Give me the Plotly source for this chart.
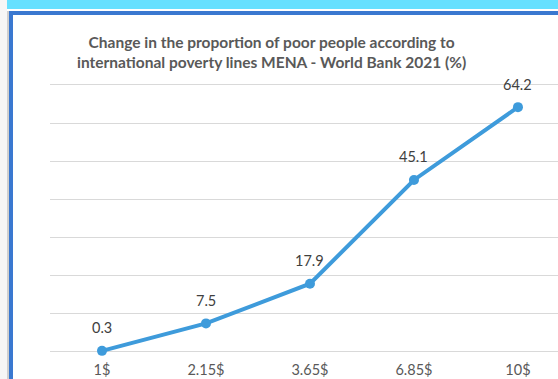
import plotly.graph_objects as go

# Poverty lines (USD/day) and share of population below each line (%)
poverty_lines = ["1$", "2.15$", "3.65$", "6.85$", "10$"]
poor_share = [0.3, 7.5, 17.9, 45.1, 64.2]
chart_title = ("Change in the proportion of poor people according to<br>"
               "international poverty lines MENA - World Bank 2021 (%)")

W, H = 558, 379
LINE_BLUE = "#3e9bdb"
FONT = "Lato"

# vertical scale: 0 % sits at y=352 px, 70 % at y=85 px
Y_LO, Y_HI = -0.5, 71.0
PX_PER_UNIT = (352 - 85) / 70.0
Y_BOTTOM_PX = 352 + (0 - Y_LO) * PX_PER_UNIT
Y_TOP_PX = 85 - (Y_HI - 70) * PX_PER_UNIT


def px_x(p):
    return p / W


def px_y(p):
    return 1 - p / H


fig = go.Figure()
fig.add_trace(go.Scatter(
    x=poverty_lines,
    y=poor_share,
    mode="lines+markers",
    line=dict(color=LINE_BLUE, width=4),
    marker=dict(color=LINE_BLUE, size=10),
    cliponaxis=False,
    hoverinfo="skip",
))

# value labels sitting above each point
value_labels = [
    dict(x=cat, y=val, xref="x", yref="y", text=f"{val:.1f}",
         showarrow=False, yshift=23, xanchor="center", yanchor="middle",
         font=dict(family=FONT, size=14.5, color="#404040"))
    for cat, val in zip(poverty_lines, poor_share)
]

shapes = [
    # light grey strip on the far left
    dict(type="rect", xref="paper", yref="paper", x0=px_x(0), x1=px_x(7),
         y0=px_y(H), y1=px_y(0), fillcolor="#f6f6f6", line_width=0, layer="below"),
    dict(type="rect", xref="paper", yref="paper", x0=px_x(7), x1=px_x(9),
         y0=px_y(H), y1=px_y(11), fillcolor="#cfcfcf", line_width=0, layer="below"),
    # cyan header band
    dict(type="rect", xref="paper", yref="paper", x0=px_x(7), x1=px_x(W),
         y0=px_y(9), y1=px_y(0), fillcolor="#66e0ff", line_width=0, layer="below"),
    # blue frame: top and left edges
    dict(type="rect", xref="paper", yref="paper", x0=px_x(9), x1=px_x(W),
         y0=px_y(15), y1=px_y(11), fillcolor="#3a78d0", line_width=0, layer="below"),
    dict(type="rect", xref="paper", yref="paper", x0=px_x(9), x1=px_x(13),
         y0=px_y(H), y1=px_y(11), fillcolor="#3a78d0", line_width=0, layer="below"),
]

fig.update_layout(
    width=W, height=H,
    margin=dict(l=0, r=0, t=0, b=0),
    paper_bgcolor="white",
    plot_bgcolor="white",
    showlegend=False,
    shapes=shapes,
    annotations=[dict(
        text=chart_title, xref="paper", yref="paper",
        x=px_x(271.5), y=px_y(52), xanchor="center", yanchor="middle",
        showarrow=False, align="center",
        font=dict(family=FONT, size=15.5, color="#595959", weight="bold"),
    )] + value_labels,
    xaxis=dict(
        anchor="free", position=1 - 352 / H,
        domain=[px_x(50), 1],
        range=[-0.5, 4.385],
        showgrid=False, zeroline=False, showline=False,
        ticks="", ticklabelstandoff=7,
        tickfont=dict(family=FONT, size=14.5, color="#595959"),
        fixedrange=True,
    ),
    yaxis=dict(
        domain=[1 - Y_BOTTOM_PX / H, 1 - Y_TOP_PX / H],
        range=[Y_LO, Y_HI],
        tick0=0, dtick=10,
        showgrid=True, gridcolor="#d9d9d9", gridwidth=1,
        zeroline=False, showline=False, showticklabels=False, ticks="",
        fixedrange=True,
    ),
)

fig.write_html("out.html")
